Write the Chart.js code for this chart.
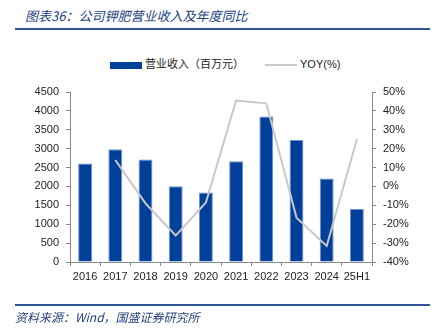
<!DOCTYPE html>
<html>
<head>
<meta charset="utf-8">
<script src="https://cdn.jsdelivr.net/npm/chart.js@4/dist/chart.umd.min.js"></script>
<style>
  body { margin: 0; background: #fff; width: 437px; height: 336px; position: relative; overflow: hidden; }
  #myChart { position: absolute; left: 0; top: 0; }
  .title { position: absolute; left: 25px; top: 6px; font: italic 13px "Noto Sans CJK SC"; color: #24427f; white-space: nowrap; }
  .rule { position: absolute; left: 15px; width: 415px; height: 2px; background: #2f5597; }
  .legend { position: absolute; top: 55px; font: 11px "Noto Sans CJK SC"; color: #222; white-space: nowrap; }
  .src { position: absolute; left: 15px; top: 308px; font: italic 12px "Noto Sans CJK SC"; color: #24427f; white-space: nowrap; }
</style>
</head>
<body>
<div class="title">图表36：公司钾肥营业收入及年度同比</div>
<div class="rule" style="top:28px"></div>

<div class="legend" style="left:110px">
  <span style="display:inline-block;width:32px;height:7px;background:#00409a;vertical-align:middle;margin-right:3px"></span>营业收入（百万元）
</div>
<div class="legend" style="left:265px">
  <span style="display:inline-block;width:32px;height:2px;background:#c8c8c8;vertical-align:middle;margin-right:3px"></span><span style="font-family:'Liberation Sans'">YOY(%)</span>
</div>

<canvas id="myChart" width="437" height="336"></canvas>

<div class="rule" style="top:304px"></div>
<div class="src">资料来源：Wind，国盛证券研究所</div>

<script>
const years = ['2016', '2017', '2018', '2019', '2020', '2021', '2022', '2023', '2024', '25H1'];
const revenue = [2610, 2985, 2715, 2005, 1840, 2670, 3850, 3230, 2210, 1405];
const yoy = [null, 14, -9, -26, -8.5, 45.5, 44, -16.5, -31.5, 25];

const axisGray = '#8a8a8a';
const tickFont = { family: 'Liberation Sans', size: 11 };

new Chart(document.getElementById('myChart'), {
  data: {
    labels: years,
    datasets: [
      {
        type: 'line',
        label: 'YOY(%)',
        data: yoy,
        yAxisID: 'y1',
        borderColor: '#c8c8c8',
        borderWidth: 2,
        pointRadius: 0,
        tension: 0,
        order: 0
      },
      {
        type: 'bar',
        label: '营业收入（百万元）',
        data: revenue,
        yAxisID: 'y',
        backgroundColor: '#00409a',
        borderColor: '#6f90c8',
        borderWidth: 1,
        barPercentage: 0.46,
        categoryPercentage: 1,
        order: 1
      }
    ]
  },
  options: {
    responsive: false,
    animation: false,
    layout: { padding: { top: 92, left: 0, right: 0, bottom: 0 } },
    plugins: { legend: { display: false }, tooltip: { enabled: false } },
    scales: {
      x: {
        offset: true,
        grid: { display: true, drawOnChartArea: false, drawTicks: true, tickLength: 4, color: axisGray, offset: true },
        border: { display: true, color: axisGray, width: 1 },
        ticks: { color: '#222', font: tickFont, padding: 4, maxRotation: 0 },
        afterFit: s => { s.height = 74; }
      },
      y: {
        position: 'left',
        min: 0, max: 4500,
        ticks: { stepSize: 500, color: '#222', font: tickFont, padding: 7, callback: v => String(v) },
        grid: { drawOnChartArea: false, drawTicks: true, tickLength: 4, color: axisGray },
        border: { display: true, color: axisGray, width: 1 },
        afterFit: s => { s.width = 70; }
      },
      y1: {
        position: 'right',
        min: -40, max: 50,
        ticks: { stepSize: 10, color: '#222', font: tickFont, padding: 7, callback: v => v + '%' },
        grid: { drawOnChartArea: false, drawTicks: true, tickLength: 4, color: axisGray },
        border: { display: true, color: axisGray, width: 1 },
        afterFit: s => { s.width = 65; }
      }
    }
  }
});
</script>
</body>
</html>
